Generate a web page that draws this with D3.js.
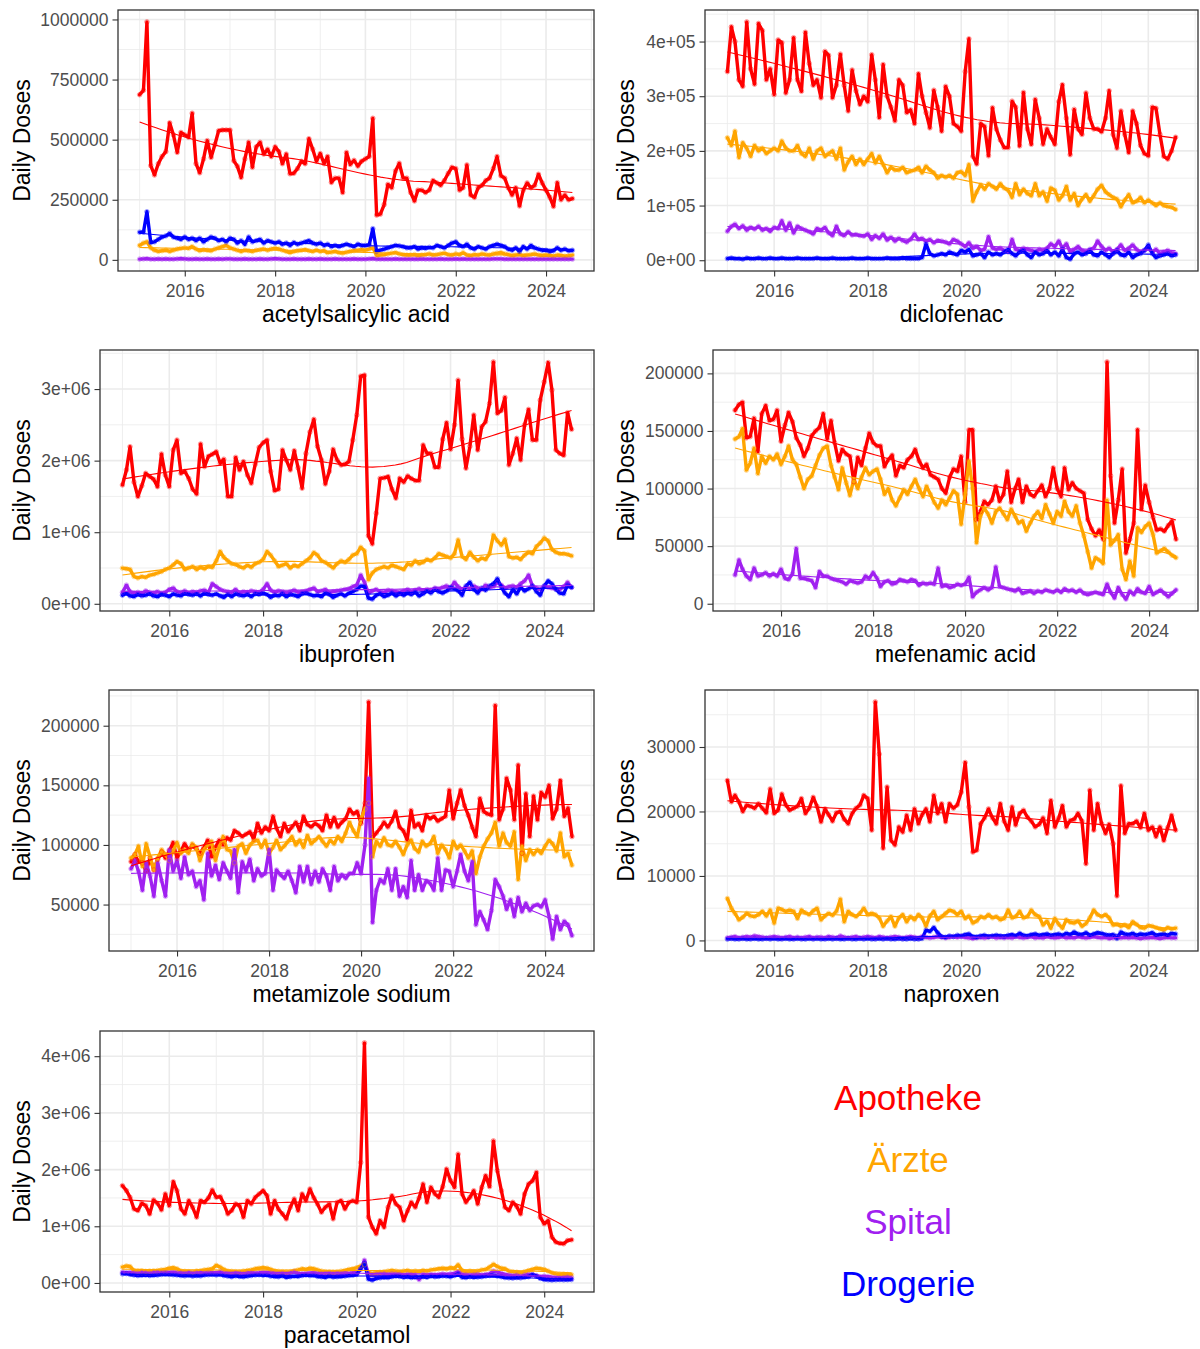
<!DOCTYPE html>
<html>
<head>
<meta charset="utf-8">
<script src="https://cdn.jsdelivr.net/npm/d3@7"></script>
<style>
  body { margin: 0; background: #fff; }
  svg { display: block; font-family: "Liberation Sans", Arial, sans-serif; }
</style>
</head>
<body>
<div id="vis"></div>
<script>
// monthly daily doses, Jan 2015 .. Aug 2024, values in thousands
const UNIT = 1000
const months = d3.range(116).map(i => new Date(2015, i, 1))

const channels = ["Apotheke", "Ärzte", "Spital", "Drogerie"]
const channelColors = ["#FF0000", "#FFA500", "#A020F0", "#0000FF"]

// acetylsalicylic acid
const asaApotheke = [
  687, 705, 990, 392, 353, 400, 430, 450, 570, 520, 447, 530,
  520, 510, 610, 400, 362, 420, 496, 426, 480, 537, 540, 540,
  540, 412, 390, 343, 420, 489, 385, 470, 489, 440, 460, 430,
  470, 450, 400, 440, 358, 360, 380, 410, 400, 504, 460, 410,
  442, 400, 430, 322, 340, 340, 280, 447, 397, 414, 390, 410,
  420, 430, 589, 186, 190, 230, 314, 300, 370, 402, 340, 340,
  280, 245, 290, 290, 280, 290, 330, 320, 310, 330, 360, 385,
  380, 290, 300, 395, 270, 260, 300, 310, 330, 340, 380, 430,
  350, 340, 300, 270, 300, 224, 290, 320, 300, 310, 356, 320,
  290, 260, 222, 321, 250, 270, 250, 255]
const asaAerzte = [
  60, 70, 75, 50, 40, 35, 38, 40, 35, 40, 45, 48,
  50, 48, 55, 45, 38, 42, 40, 38, 45, 50, 55, 60,
  50, 45, 40, 35, 40, 38, 35, 40, 42, 45, 40, 45,
  48, 45, 40, 35, 30, 35, 38, 40, 42, 38, 35, 40,
  35, 38, 30, 32, 35, 30, 28, 32, 35, 38, 40, 42,
  40, 45, 50, 18, 20, 22, 25, 28, 30, 25, 22, 20,
  20, 22, 18, 20, 22, 25, 20, 22, 25, 28, 22, 20,
  25, 22, 30, 20, 18, 22, 20, 25, 22, 20, 25, 28,
  30, 25, 22, 18, 20, 22, 18, 20, 22, 25, 20, 18,
  20, 18, 15, 20, 18, 15, 17, 20]
const asaSpital = [
  3, 4, 5, 3, 3, 4, 3, 4, 3, 3, 4, 5,
  4, 3, 3, 4, 3, 3, 4, 3, 3, 4, 3, 4,
  4, 3, 3, 3, 4, 3, 3, 3, 4, 3, 3, 4,
  5, 4, 3, 3, 3, 4, 3, 3, 3, 4, 3, 3,
  4, 3, 3, 3, 4, 3, 3, 3, 3, 4, 3, 3,
  3, 4, 5, 3, 3, 3, 3, 3, 4, 3, 3, 3,
  3, 3, 3, 4, 3, 3, 3, 3, 4, 3, 3, 3,
  4, 3, 4, 3, 3, 3, 3, 3, 3, 3, 4, 4,
  4, 3, 3, 3, 3, 3, 3, 3, 3, 3, 3, 3,
  3, 3, 3, 3, 3, 3, 3, 3]
const asaDrogerie = [
  115, 115, 200, 72, 75, 85, 95, 100, 110, 95, 90, 85,
  95, 85, 90, 80, 90, 75, 85, 95, 90, 80, 85, 75,
  90, 85, 70, 80, 65, 95, 75, 80, 85, 70, 80, 75,
  70, 75, 65, 70, 60, 72, 65, 70, 75, 80, 70, 65,
  70, 60, 65, 55, 60, 55, 60, 65, 60, 55, 65, 60,
  60, 62, 130, 35, 40, 45, 50, 55, 60, 58, 55, 50,
  50, 55, 45, 50, 48, 52, 50, 60, 55, 50, 60, 70,
  75, 60, 55, 65, 50, 45, 55, 50, 45, 55, 60, 65,
  60, 55, 45, 40, 50, 35, 55, 45, 60, 50, 45, 40,
  40, 35, 38, 50, 40, 45, 38, 40]

// diclofenac
const dicApotheke = [
  345, 427, 400, 330, 318, 436, 350, 322, 433, 420, 330, 350,
  303, 403, 398, 306, 330, 407, 330, 309, 417, 360, 320, 330,
  297, 382, 375, 297, 320, 377, 320, 273, 348, 310, 285, 300,
  290, 376, 330, 261, 358, 300, 280, 255, 330, 320, 270, 275,
  250, 341, 300, 270, 242, 311, 280, 236, 318, 300, 250, 245,
  236, 345, 405, 190, 176, 250, 245, 191, 279, 240, 220, 206,
  206, 291, 280, 209, 307, 240, 212, 294, 260, 212, 240, 225,
  212, 290, 321, 260, 193, 276, 240, 230, 306, 260, 240, 240,
  235, 260, 310, 230, 205, 273, 230, 197, 273, 250, 210, 195,
  191, 280, 278, 230, 190, 185, 200, 225]
const dicAerzte = [
  224, 210, 236, 188, 215, 205, 190, 210, 200, 205, 195, 200,
  205, 200, 218, 205, 200, 200, 210, 195, 190, 205, 185, 200,
  205, 190, 195, 200, 185, 205, 165, 180, 190, 175, 185, 175,
  185, 195, 178, 190, 175, 160, 170, 165, 165, 170, 160, 163,
  165, 170, 160, 172, 165, 160, 150, 155, 152, 155, 150, 160,
  162, 155, 175, 108, 125, 138, 130, 140, 135, 130, 140, 132,
  128, 115, 140, 120, 130, 122, 118, 140, 118, 125, 108, 132,
  128, 110, 118, 135, 110, 122, 100, 112, 120, 108, 118, 130,
  137, 125, 120, 115, 112, 98, 110, 120, 105, 108, 115, 105,
  110, 105, 100, 105, 100, 98, 97, 93]
const dicSpital = [
  53, 62, 66, 58, 63, 55, 60, 57, 62, 55, 58, 53,
  60, 58, 72, 55, 68, 50, 62, 58, 55, 52, 48, 58,
  55, 60, 50, 45, 62, 48, 45, 52, 46, 47, 45, 44,
  48, 38, 45, 40, 48, 37, 42, 35, 40, 36, 33, 38,
  48, 38, 40, 35, 38, 32, 36, 35, 33, 30, 38, 35,
  30, 25, 32, 22, 25, 18, 20, 43, 22, 20, 22, 18,
  15, 38, 20, 18, 22, 20, 18, 15, 20, 18, 22, 30,
  25, 35, 22, 30, 15, 20, 25, 18, 15, 20, 22, 35,
  25, 18, 22, 15, 20, 28, 18, 22, 28, 20, 15, 18,
  22, 15, 20, 12, 15, 18, 14, 12]
const dicDrogerie = [
  3, 4, 3, 3, 2, 4, 3, 3, 4, 3, 3, 4,
  3, 3, 4, 3, 3, 3, 4, 3, 3, 3, 3, 4,
  3, 3, 3, 4, 3, 3, 3, 3, 4, 3, 3, 3,
  4, 3, 3, 3, 3, 4, 3, 3, 3, 4, 3, 3,
  3, 3, 5, 30, 12, 8, 10, 12, 10, 15, 12, 10,
  18, 15, 20, 8, 10, 12, 5, 15, 10, 12, 10, 15,
  20, 12, 8, 15, 18, 10, 5, 15, 10, 12, 18, 10,
  15, 8, 20, 5, 2, 12, 15, 10, 12, 18, 10, 8,
  15, 10, 5, 12, 18, 10, 8, 15, 5, 10, 12, 18,
  28, 12, 5, 8, 10, 12, 8, 10]

// ibuprofen
const ibuApotheke = [
  1660, 1870, 2195, 1700, 1498, 1650, 1823, 1780, 1740, 1637, 2093, 1800,
  1637, 2150, 2288, 1823, 1850, 1750, 1600, 1535, 2232, 1916, 2060, 2090,
  2125, 1963, 2020, 1498, 1498, 2046, 1870, 1986, 1800, 1684, 1950, 2186,
  2250, 2288, 1850, 1581, 1600, 2149, 2009, 1870, 2139, 1900, 1614, 2100,
  2400, 2577, 2200, 2009, 1674, 1850, 2158, 2009, 1939, 1950, 1986, 2288,
  2637, 3181, 3195, 950, 837, 1265, 1753, 1760, 1777, 1600, 1474, 1753,
  1700, 1786, 1750, 1721, 1721, 2218, 2102, 2102, 1907, 1907, 2300, 2530,
  2158, 2500, 3125, 2300, 1893, 2200, 2637, 2149, 2474, 2544, 2800, 3380,
  2660, 2700, 2884, 1939, 2100, 2312, 2009, 2500, 2716, 2288, 2288, 2846,
  3100, 3370, 2986, 2149, 2100, 2074, 2670, 2437]
const ibuAerzte = [
  498, 490, 480, 381, 360, 380, 370, 400, 410, 430, 450, 480,
  500, 544, 590, 560, 480, 500, 520, 480, 510, 490, 520, 510,
  600, 730, 650, 600, 560, 550, 520, 500, 540, 510, 560, 580,
  620, 730, 680, 600, 520, 540, 560, 500, 540, 520, 560, 600,
  640, 716, 680, 600, 580, 540, 500, 560, 600, 580, 620, 680,
  700, 790, 740, 335, 430, 480, 500, 520, 500, 540, 520, 500,
  480, 560, 540, 600, 560, 580, 620, 600, 640, 700, 680, 660,
  640, 700, 893, 660, 620, 720, 650, 600, 640, 620, 700, 960,
  880, 820, 900, 660, 640, 650, 620, 680, 720, 700, 800, 850,
  920, 880, 760, 720, 700, 700, 690, 670]
const ibuSpital = [
  160, 260, 170, 150, 160, 140, 180, 160, 150, 170, 140, 160,
  200, 220, 170, 160, 180, 150, 170, 160, 180, 190, 160, 280,
  240, 200, 180, 170, 160, 200, 150, 170, 160, 180, 170, 160,
  200, 280, 190, 160, 180, 170, 150, 170, 190, 160, 170, 180,
  200, 220, 170, 180, 200, 160, 170, 180, 190, 200, 210, 240,
  260, 400, 300, 150, 180, 200, 170, 160, 190, 180, 170, 160,
  180, 200, 170, 190, 210, 180, 200, 190, 220, 210, 230, 250,
  220, 300, 240, 200, 230, 210, 250, 220, 200, 260, 230, 240,
  300, 260, 220, 240, 250, 230, 280, 320, 400, 250, 220, 200,
  240, 230, 220, 210, 200, 240, 300, 230]
const ibuDrogerie = [
  120, 150, 110, 100, 130, 110, 120, 140, 110, 100, 130, 120,
  100, 140, 120, 110, 150, 130, 120, 140, 110, 150, 130, 120,
  140, 110, 90, 130, 100, 140, 120, 110, 130, 100, 140, 130,
  150, 130, 90, 120, 110, 140, 100, 130, 120, 100, 140, 150,
  130, 110, 120, 100, 150, 130, 90, 120, 140, 110, 150, 170,
  200, 250, 240, 80, 65, 120, 140, 100, 120, 150, 110, 140,
  120, 150, 130, 160, 110, 140, 180, 150, 200, 170, 150, 180,
  230, 210, 180, 120, 250, 300, 200, 150, 220, 190, 250, 280,
  350, 230, 150, 100, 200, 140, 230, 180, 210, 250, 170, 120,
  250, 320, 280, 200, 150, 140, 260, 230]

// mefenamic acid
const mefApotheke = [
  168, 173, 175, 144, 145, 161, 132, 165, 172, 159, 160, 168,
  141, 155, 166, 158, 144, 138, 128, 135, 146, 150, 153, 165,
  143, 159, 140, 124, 134, 130, 128, 106, 127, 120, 135, 148,
  140, 137, 137, 119, 125, 129, 111, 120, 118, 125, 128, 134,
  124, 118, 121, 112, 110, 108, 100, 96, 110, 117, 115, 128,
  88, 151, 151, 73, 80, 89, 86, 90, 102, 89, 95, 115,
  88, 100, 108, 88, 102, 95, 93, 98, 103, 93, 100, 118,
  100, 93, 118, 99, 105, 100, 98, 96, 73, 65, 59, 64,
  56, 210, 111, 70, 90, 117, 44, 56, 70, 151, 82, 103,
  88, 75, 64, 65, 63, 68, 72, 56]
const mefAerzte = [
  143, 145, 152, 116, 122, 135, 113, 128, 122, 128, 125, 130,
  121, 128, 137, 125, 121, 110, 100, 108, 111, 120, 129, 135,
  137, 120, 110, 99, 118, 105, 94, 108, 100, 110, 118, 112,
  115, 117, 108, 95, 100, 90, 85, 92, 99, 95, 102, 108,
  100, 93, 102, 95, 88, 83, 90, 86, 92, 98, 95, 69,
  95, 124, 100, 53, 76, 83, 78, 70, 80, 83, 78, 73,
  82, 76, 70, 72, 63, 70, 76, 80, 74, 86, 78, 70,
  80, 76, 89, 80, 76, 85, 70, 59, 45, 31, 40, 38,
  35, 90, 51, 55, 60, 30, 21, 37, 24, 66, 62, 67,
  70, 60, 44, 46, 48, 45, 42, 40]
const mefSpital = [
  25, 38, 30, 24, 21, 31, 24, 25, 27, 24, 26, 24,
  30, 22, 21, 26, 48, 22, 22, 21, 20, 14, 28, 24,
  24, 22, 21, 20, 19, 17, 20, 19, 18, 19, 24, 22,
  27, 22, 15, 19, 20, 17, 18, 21, 20, 19, 21, 20,
  16, 18, 17, 18, 17, 31, 15, 16, 14, 15, 17, 16,
  17, 23, 6, 10, 12, 14, 12, 14, 32, 15, 14, 13,
  12, 11, 13, 9, 10, 11, 9, 11, 10, 12, 11, 10,
  12, 10, 13, 11, 12, 10, 12, 9, 8, 9, 10, 9,
  8, 17, 10, 5, 14, 8, 4, 11, 8, 13, 10, 9,
  15, 8, 10, 12, 9, 6, 9, 12]

// metamizole sodium
const metApotheke = [
  86, 92, 86, 85, 78, 89, 79, 88, 94, 89, 95, 102,
  89, 95, 101, 96, 99, 97, 93, 98, 104, 90, 98, 104,
  100, 106, 104, 112, 110, 107, 109, 111, 105, 118, 110, 115,
  112, 124, 114, 107, 118, 111, 115, 119, 112, 124, 117, 115,
  118, 116, 112, 125, 115, 123, 115, 119, 122, 130, 126, 128,
  118, 135, 220, 106, 110, 114, 119, 115, 120, 128, 115, 112,
  104, 129, 115, 118, 112, 125, 122, 124, 120, 122, 124, 146,
  122, 135, 146, 133, 125, 115, 107, 139, 128, 126, 125, 217,
  121, 130, 156, 146, 121, 167, 93, 143, 107, 141, 121, 144,
  140, 150, 122, 130, 154, 124, 131, 107]
const metAerzte = [
  89, 92, 99, 82, 101, 90, 79, 89, 96, 92, 87, 95,
  102, 93, 96, 93, 101, 98, 87, 96, 100, 103, 87, 98,
  107, 96, 95, 85, 99, 101, 93, 100, 103, 104, 98, 104,
  93, 98, 104, 96, 99, 103, 107, 100, 104, 98, 108, 101,
  104, 107, 103, 99, 104, 101, 107, 103, 110, 119, 112, 107,
  122, 130, 135, 90, 103, 99, 106, 100, 99, 103, 98, 92,
  100, 104, 97, 94, 103, 99, 101, 107, 93, 100, 96, 89,
  103, 97, 100, 95, 89, 95, 76, 90, 99, 105, 110, 119,
  99, 110, 102, 99, 111, 71, 99, 87, 96, 92, 96, 93,
  99, 104, 101, 95, 110, 90, 93, 83]
const metSpital = [
  80, 87, 78, 62, 85, 74, 57, 85, 70, 57, 96, 78,
  87, 72, 90, 75, 78, 65, 70, 54, 93, 74, 83, 71,
  85, 78, 72, 96, 60, 86, 78, 88, 70, 80, 74, 76,
  96, 62, 79, 75, 72, 78, 70, 60, 82, 69, 82, 67,
  78, 69, 80, 74, 62, 82, 70, 75, 72, 76, 76, 85,
  76, 100, 156, 35, 62, 71, 68, 80, 62, 80, 57, 65,
  56, 87, 62, 75, 62, 70, 68, 62, 89, 62, 79, 78,
  65, 78, 92, 78, 70, 86, 33, 44, 37, 29, 45, 71,
  65, 57, 46, 54, 40, 56, 44, 51, 45, 49, 50, 48,
  54, 40, 21, 40, 29, 36, 33, 24]

// naproxen
const napApotheke = [
  24.8, 21.5, 22.5, 21.5, 20.0, 21.0, 20.8, 20.5, 21.2, 20.5, 19.8, 23.5,
  19.7, 20.2, 22.7, 21.0, 20.2, 20.5, 20.8, 22.0, 19.7, 20.5, 22.2, 20.8,
  18.4, 20.4, 19.5, 18.5, 19.8, 20.0, 18.8, 18.1, 19.7, 20.5, 21.0, 22.5,
  22.0, 17.1, 37.0, 28.9, 14.3, 23.8, 15.5, 14.8, 17.6, 16.8, 19.4, 17.1,
  20.4, 18.1, 19.5, 20.4, 18.4, 22.5, 19.7, 21.2, 18.4, 21.2, 20.5, 21.0,
  23.0, 27.6, 20.7, 13.7, 14.0, 18.1, 19.0, 20.4, 19.0, 18.1, 21.2, 18.5,
  17.1, 20.7, 17.9, 19.7, 20.2, 19.1, 18.5, 17.6, 18.0, 19.0, 16.6, 21.7,
  17.6, 19.0, 20.9, 17.6, 18.6, 18.8, 19.7, 18.5, 11.9, 23.3, 17.1, 21.2,
  18.1, 16.6, 18.0, 15.0, 6.9, 24.0, 16.6, 18.1, 18.1, 18.5, 17.5, 19.7,
  17.1, 17.6, 16.1, 17.6, 15.5, 17.5, 19.4, 17.1]
const napAerzte = [
  6.5, 5.0, 4.2, 3.2, 3.6, 4.2, 3.8, 3.7, 4.0, 4.5, 3.8, 4.7,
  2.7, 5.0, 4.8, 4.5, 4.7, 4.5, 3.4, 4.7, 4.3, 4.0, 4.6, 5.0,
  3.2, 3.8, 4.2, 3.9, 4.5, 6.4, 2.9, 4.5, 4.0, 3.7, 4.2, 5.0,
  4.0, 4.2, 4.0, 3.5, 2.2, 3.0, 3.7, 2.2, 3.5, 4.0, 2.9, 3.7,
  3.2, 4.0, 3.5, 2.2, 3.8, 4.5, 3.2, 3.7, 4.2, 4.7, 4.5, 4.0,
  4.5, 3.4, 3.8, 2.7, 3.0, 3.7, 3.5, 4.0, 3.5, 3.7, 3.2, 3.4,
  4.7, 3.5, 3.7, 4.5, 3.5, 3.7, 4.7, 4.0, 3.7, 2.4, 3.0, 1.9,
  3.4, 2.5, 1.9, 3.2, 2.8, 2.7, 3.0, 2.2, 2.6, 3.5, 4.7, 4.0,
  3.7, 4.0, 3.5, 2.4, 2.5, 2.2, 2.4, 2.0, 2.9, 2.5, 2.0, 1.9,
  2.3, 2.2, 2.0, 1.8, 1.6, 2.0, 1.8, 1.9]
const napSpital = [
  0.4, 0.5, 0.6, 0.4, 0.5, 0.6, 0.5, 0.7, 0.6, 0.5, 0.4, 0.5,
  0.6, 0.5, 0.4, 0.5, 0.6, 0.4, 0.5, 0.4, 0.5, 0.6, 0.4, 0.5,
  0.5, 0.4, 0.6, 0.5, 0.4, 0.7, 0.5, 0.4, 0.5, 0.6, 0.4, 0.5,
  0.6, 0.5, 0.4, 0.6, 0.5, 0.4, 0.5, 0.6, 0.5, 0.4, 0.5, 0.6,
  0.5, 0.4, 0.6, 0.5, 0.4, 0.5, 0.6, 0.5, 0.4, 0.5, 0.6, 0.5,
  0.6, 0.5, 0.4, 0.3, 0.4, 0.5, 0.4, 0.5, 0.6, 0.4, 0.5, 0.4,
  0.5, 0.4, 0.6, 0.5, 0.4, 0.5, 0.6, 0.4, 0.5, 0.4, 0.6, 0.5,
  0.4, 0.5, 0.6, 0.4, 0.5, 0.4, 0.6, 0.5, 0.4, 0.5, 0.6, 0.5,
  0.4, 0.5, 0.3, 0.4, 0.5, 0.4, 0.5, 0.4, 0.5, 0.4, 0.3, 0.4,
  0.4, 0.5, 0.4, 0.3, 0.4, 0.5, 0.4, 0.4]
const napDrogerie = [
  0.2, 0.3, 0.2, 0.2, 0.3, 0.2, 0.2, 0.3, 0.2, 0.2, 0.3, 0.2,
  0.3, 0.2, 0.2, 0.3, 0.2, 0.2, 0.3, 0.2, 0.2, 0.3, 0.2, 0.3,
  0.2, 0.2, 0.3, 0.2, 0.3, 0.2, 0.2, 0.3, 0.2, 0.2, 0.3, 0.2,
  0.3, 0.2, 0.2, 0.3, 0.2, 0.3, 0.2, 0.2, 0.3, 0.2, 0.2, 0.3,
  0.2, 0.2, 0.3, 1.6, 1.4, 2.0, 1.2, 0.6, 0.5, 0.7, 0.6, 0.8,
  0.7, 0.9, 1.0, 0.6, 0.5, 0.7, 0.8, 0.6, 0.7, 0.8, 0.7, 0.6,
  0.8, 0.9, 0.7, 1.1, 0.8, 0.7, 0.9, 1.0, 0.8, 0.9, 1.0, 0.8,
  0.9, 1.0, 0.8, 1.1, 0.9, 1.3, 1.0, 0.9, 1.2, 0.8, 1.0, 1.2,
  1.1, 0.9, 0.8, 0.9, 0.3, 1.3, 1.0, 0.9, 1.1, 0.8, 1.0, 0.9,
  1.0, 1.2, 0.8, 0.9, 1.0, 0.8, 1.1, 1.0]

// paracetamol
const parApotheke = [
  1716, 1628, 1511, 1306, 1277, 1406, 1365, 1218, 1464, 1406, 1289, 1570,
  1365, 1786, 1628, 1306, 1218, 1452, 1335, 1160, 1452, 1423, 1500, 1640,
  1511, 1523, 1400, 1218, 1277, 1394, 1365, 1160, 1452, 1394, 1511, 1570,
  1628, 1540, 1218, 1452, 1300, 1218, 1130, 1335, 1482, 1277, 1570, 1452,
  1658, 1500, 1394, 1248, 1335, 1394, 1130, 1423, 1452, 1306, 1423, 1450,
  1423, 2126, 4235, 1160, 984, 867, 1101, 984, 1335, 1540, 1394, 1335,
  1101, 1277, 1423, 1335, 1500, 1745, 1423, 1687, 1570, 1511, 1700, 2009,
  1804, 1687, 2273, 1570, 1423, 1511, 1628, 1394, 1687, 1892, 1700, 2507,
  1980, 1628, 1335, 1277, 1423, 1350, 1218, 1570, 1745, 1800, 1950, 1160,
  1043, 1101, 808, 720, 700, 691, 750, 761]
const parAerzte = [
  280, 300, 290, 220, 210, 215, 205, 210, 215, 220, 230, 240,
  260, 270, 250, 210, 205, 200, 190, 210, 215, 230, 240, 250,
  310, 280, 240, 210, 205, 200, 195, 210, 220, 230, 250, 260,
  270, 260, 240, 215, 205, 200, 195, 200, 215, 230, 250, 240,
  260, 250, 230, 210, 200, 195, 190, 200, 210, 220, 240, 250,
  270, 300, 320, 180, 170, 180, 190, 200, 210, 220, 210, 200,
  210, 220, 200, 210, 200, 220, 210, 230, 240, 250, 260, 250,
  270, 260, 320, 220, 200, 210, 200, 210, 230, 240, 280, 330,
  290, 260, 250, 210, 200, 190, 180, 200, 220, 240, 260, 250,
  240, 210, 180, 160, 150, 155, 150, 145]
const parSpital = [
  190, 180, 185, 175, 170, 180, 175, 170, 180, 185, 180, 190,
  185, 195, 180, 175, 170, 180, 170, 175, 180, 175, 185, 180,
  180, 200, 175, 170, 165, 175, 170, 160, 175, 180, 175, 180,
  190, 185, 180, 170, 165, 170, 160, 175, 200, 170, 165, 170,
  175, 180, 170, 160, 165, 170, 160, 170, 165, 175, 170, 180,
  190, 240, 400, 150, 140, 150, 155, 160, 150, 160, 155, 150,
  140, 150, 145, 140, 60, 150, 140, 150, 145, 150, 160, 150,
  160, 170, 200, 150, 145, 140, 145, 150, 140, 150, 160, 210,
  190, 170, 150, 140, 130, 135, 120, 140, 150, 145, 130, 110,
  120, 110, 100, 95, 90, 95, 100, 90]
const parDrogerie = [
  160, 165, 150, 140, 130, 135, 140, 130, 135, 140, 150, 155,
  150, 145, 140, 130, 125, 135, 120, 130, 125, 140, 145, 150,
  140, 150, 130, 120, 110, 125, 115, 110, 120, 130, 140, 145,
  135, 140, 120, 115, 110, 125, 100, 110, 120, 115, 130, 140,
  130, 135, 115, 110, 100, 120, 105, 110, 115, 120, 130, 135,
  150, 250, 350, 70, 50, 80, 90, 100, 95, 110, 120, 115,
  100, 110, 95, 100, 105, 110, 100, 120, 110, 115, 125, 120,
  110, 130, 160, 100, 95, 110, 100, 105, 110, 120, 130, 140,
  120, 110, 95, 90, 85, 95, 90, 100, 110, 150, 120, 80,
  60, 55, 50, 55, 60, 55, 58, 60]

// y tick values and labels as printed
const asaTicks = [0, 250000, 500000, 750000, 1000000]
const asaTickLabels = ["0", "250000", "500000", "750000", "1000000"]
const dicTicks = [0, 1e5, 2e5, 3e5, 4e5]
const dicTickLabels = ["0e+00", "1e+05", "2e+05", "3e+05", "4e+05"]
const ibuTicks = [0, 1e6, 2e6, 3e6]
const ibuTickLabels = ["0e+00", "1e+06", "2e+06", "3e+06"]
const mefTicks = [0, 50000, 100000, 150000, 200000]
const mefTickLabels = ["0", "50000", "100000", "150000", "200000"]
const metTicks = [50000, 100000, 150000, 200000]
const metTickLabels = ["50000", "100000", "150000", "200000"]
const napTicks = [0, 10000, 20000, 30000]
const napTickLabels = ["0", "10000", "20000", "30000"]
const parTicks = [0, 1e6, 2e6, 3e6, 4e6]
const parTickLabels = ["0e+00", "1e+06", "2e+06", "3e+06", "4e+06"]

const xTickYears = [2016, 2018, 2020, 2022, 2024]

// panel layout: [left, top, right, bottom] of each plotting area
const panels = [
  { title: "acetylsalicylic acid", box: [118, 10, 594, 271], col: 0, ticks: asaTicks, labels: asaTickLabels,
    series: [asaApotheke, asaAerzte, asaSpital, asaDrogerie] },
  { title: "diclofenac", box: [705, 10, 1198, 271], col: 1, ticks: dicTicks, labels: dicTickLabels,
    series: [dicApotheke, dicAerzte, dicSpital, dicDrogerie] },
  { title: "ibuprofen", box: [100, 350, 594, 611], col: 0, ticks: ibuTicks, labels: ibuTickLabels,
    series: [ibuApotheke, ibuAerzte, ibuSpital, ibuDrogerie] },
  { title: "mefenamic acid", box: [713, 350, 1198, 611], col: 1, ticks: mefTicks, labels: mefTickLabels,
    series: [mefApotheke, mefAerzte, mefSpital, null] },
  { title: "metamizole sodium", box: [109, 690, 594, 951], col: 0, ticks: metTicks, labels: metTickLabels,
    series: [metApotheke, metAerzte, metSpital, null] },
  { title: "naproxen", box: [705, 690, 1198, 951], col: 1, ticks: napTicks, labels: napTickLabels,
    series: [napApotheke, napAerzte, napSpital, napDrogerie] },
  { title: "paracetamol", box: [100, 1031, 594, 1292], col: 0, ticks: parTicks, labels: parTickLabels,
    series: [parApotheke, parAerzte, parSpital, parDrogerie] }
]

const W = 1200, H = 1349

let svg = d3.select('#vis')
  .append('svg')
  .attr('width', W)
  .attr('height', H)
  .attr('viewBox', [0, 0, W, H].join(' '))
  .style('background-color', 'white')

// loess, degree 2, tricube weights (like geom_smooth default)
function loess(xs, ys, span, nEval) {
  const n = xs.length, q = Math.floor(n * span)
  const x0s = d3.range(nEval).map(i => xs[0] + (xs[n - 1] - xs[0]) * i / (nEval - 1))
  return x0s.map(x0 => {
    const dist = xs.map(x => Math.abs(x - x0))
    const h = dist.slice().sort((a, b) => a - b)[q - 1] * 1.000001
    let S0 = 0, S1 = 0, S2 = 0, S3 = 0, S4 = 0, T0 = 0, T1 = 0, T2 = 0
    for (let i = 0; i < n; i++) {
      const u = dist[i] / h
      if (u >= 1) continue
      const w = Math.pow(1 - u * u * u, 3)
      const z = (xs[i] - x0) / h, z2 = z * z
      S0 += w; S1 += w * z; S2 += w * z2; S3 += w * z2 * z; S4 += w * z2 * z2
      T0 += w * ys[i]; T1 += w * z * ys[i]; T2 += w * z2 * ys[i]
    }
    const det = S0 * (S2 * S4 - S3 * S3) - S1 * (S1 * S4 - S3 * S2) + S2 * (S1 * S3 - S2 * S2)
    const a = (T0 * (S2 * S4 - S3 * S3) - S1 * (T1 * S4 - S3 * T2) + S2 * (T1 * S3 - S2 * T2)) / det
    return [x0, a]
  })
}

panels.forEach((p, pi) => {
  const [left, top, right, bottom] = p.box
  const g = svg.append('g')

  const active = p.series.map((s, i) => s ? { vals: s.map(v => v * UNIT), color: channelColors[i], name: channels[i] } : null)
    .filter(d => d)

  const t0 = months[0], t1 = months[months.length - 1]
  const tr = t1 - t0
  const x = d3.scaleTime()
    .domain([new Date(+t0 - 0.05 * tr), new Date(+t1 + 0.05 * tr)])
    .range([left, right])

  const allVals = active.flatMap(s => s.vals)
  const vmin = d3.min(allVals), vmax = d3.max(allVals), vr = vmax - vmin
  const y = d3.scaleLinear()
    .domain([vmin - 0.05 * vr, vmax + 0.05 * vr])
    .range([bottom, top])

  // grid
  const grid = g.append('g')
  const step = p.ticks[1] - p.ticks[0]
  const yMinor = d3.range(p.ticks[0] - step / 2, p.ticks[p.ticks.length - 1] + step, step)
    .filter(v => v > y.domain()[0] && v < y.domain()[1])
  const xMinor = d3.range(2013, 2027, 2).map(yr => new Date(yr, 0, 1))
    .filter(d => d > x.domain()[0] && d < x.domain()[1])

  grid.selectAll('.ymin').data(yMinor).join('line')
    .attr('x1', left).attr('x2', right)
    .attr('y1', d => y(d)).attr('y2', d => y(d))
    .attr('stroke', '#EBEBEB').attr('stroke-width', 0.8)
  grid.selectAll('.xmin').data(xMinor).join('line')
    .attr('y1', top).attr('y2', bottom)
    .attr('x1', d => x(d)).attr('x2', d => x(d))
    .attr('stroke', '#EBEBEB').attr('stroke-width', 0.8)
  grid.selectAll('.ymaj').data(p.ticks).join('line')
    .attr('x1', left).attr('x2', right)
    .attr('y1', d => y(d)).attr('y2', d => y(d))
    .attr('stroke', '#EBEBEB').attr('stroke-width', 1.6)
  grid.selectAll('.xmaj').data(xTickYears).join('line')
    .attr('y1', top).attr('y2', bottom)
    .attr('x1', d => x(new Date(d, 0, 1))).attr('x2', d => x(new Date(d, 0, 1)))
    .attr('stroke', '#EBEBEB').attr('stroke-width', 1.6)

  const line = d3.line()
    .x((d, i) => x(months[i]))
    .y(d => y(d))

  // data lines
  active.forEach(s => {
    g.append('path')
      .attr('d', line(s.vals))
      .attr('fill', 'none')
      .attr('stroke', s.color)
      .attr('stroke-width', 3.4)
      .attr('stroke-linejoin', 'round')
      .attr('stroke-linecap', 'round')
  })

  // points
  active.forEach(s => {
    g.append('g').selectAll('circle').data(s.vals).join('circle')
      .attr('cx', (d, i) => x(months[i]))
      .attr('cy', d => y(d))
      .attr('r', 2.3)
      .attr('fill', 'none')
      .attr('stroke', s.color)
      .attr('stroke-opacity', 0.5)
      .attr('stroke-width', 0.8)
  })

  // smooth trend
  const xs = months.map(d => +d)
  active.forEach(s => {
    const sm = loess(xs, s.vals, 0.75, 80)
    g.append('path')
      .attr('d', d3.line().x(d => x(new Date(d[0]))).y(d => y(d[1]))(sm))
      .attr('fill', 'none')
      .attr('stroke', s.color)
      .attr('stroke-width', 1.1)
  })

  // border
  g.append('rect')
    .attr('x', left).attr('y', top)
    .attr('width', right - left).attr('height', bottom - top)
    .attr('fill', 'none')
    .attr('stroke', '#333333')
    .attr('stroke-width', 1.3)

  // axes
  const xAxis = g.append('g')
    .attr('transform', `translate(0,${bottom})`)
    .call(d3.axisBottom(x)
      .tickValues(xTickYears.map(yr => new Date(yr, 0, 1)))
      .tickFormat(d3.timeFormat('%Y'))
      .tickSize(5.5).tickPadding(8).tickSizeOuter(0))
  const yAxis = g.append('g')
    .attr('transform', `translate(${left},0)`)
    .call(d3.axisLeft(y)
      .tickValues(p.ticks)
      .tickFormat((d, i) => p.labels[i])
      .tickSize(5.5).tickPadding(4).tickSizeOuter(0))
  ;[xAxis, yAxis].forEach(a => {
    a.select('.domain').remove()
    a.selectAll('line').attr('stroke', '#333333').attr('stroke-width', 1.1)
    a.selectAll('text')
      .attr('fill', '#4D4D4D')
      .style('font-size', '17.5px')
      .style('font-family', '"Liberation Sans", Arial, sans-serif')
  })

  // axis titles
  g.append('text')
    .attr('x', (left + right) / 2)
    .attr('y', bottom + 51)
    .attr('text-anchor', 'middle')
    .style('font-size', '23px')
    .attr('fill', 'black')
    .text(p.title)

  const yx = p.col === 0 ? 30 : 634
  g.append('text')
    .attr('transform', `translate(${yx},${(top + bottom) / 2}) rotate(-90)`)
    .attr('text-anchor', 'middle')
    .style('font-size', '23px')
    .attr('fill', 'black')
    .text('Daily Doses')
})

// legend as coloured words
const legendY = [1098, 1160, 1222, 1284]
svg.append('g').selectAll('text').data(channels).join('text')
  .attr('x', 908)
  .attr('y', (d, i) => legendY[i])
  .attr('dy', '0.35em')
  .attr('text-anchor', 'middle')
  .style('font-size', '35px')
  .attr('fill', (d, i) => channelColors[i])
  .text(d => d)
</script>
</body>
</html>
